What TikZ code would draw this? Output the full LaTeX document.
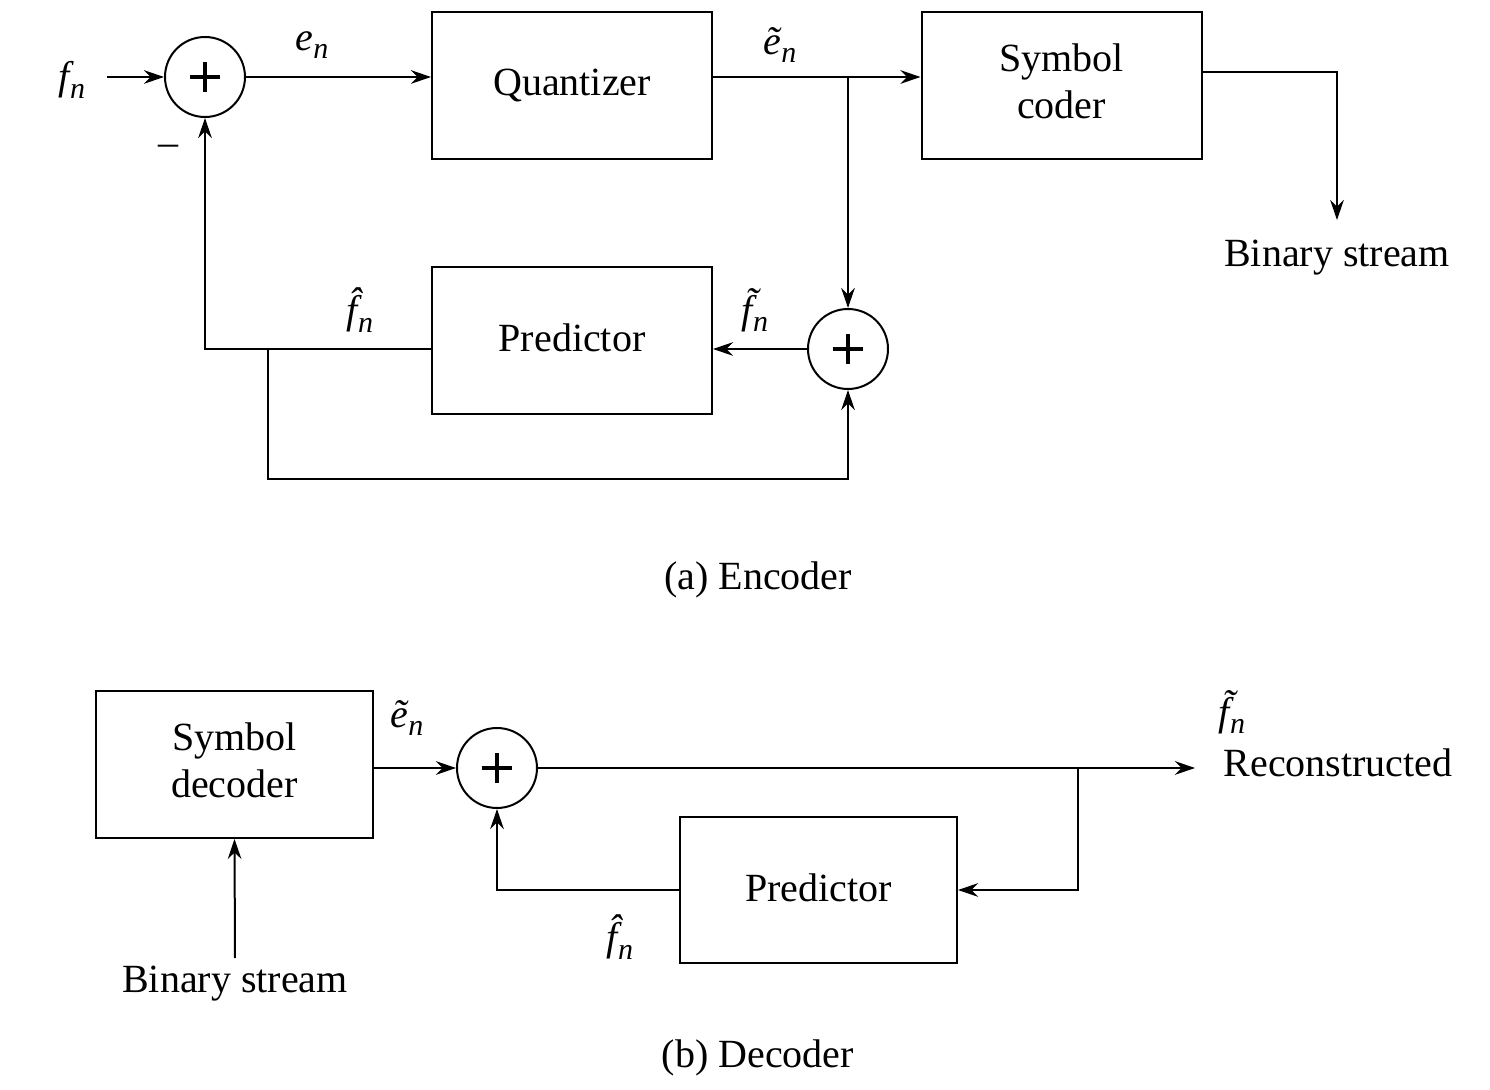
\documentclass[tikz,border=0pt]{standalone}
\usepackage{fontspec}
\setmainfont{Liberation Serif}
\usetikzlibrary{arrows.meta}
\newcommand\vn[1]{{\itshape #1}\raisebox{-0.45ex}{\fontsize{7.5}{8}\selectfont\itshape n}}
\begin{document}
\begin{tikzpicture}[x=0.25pt,y=-0.25pt,
  line width=0.5pt,
  >={Stealth[length=5pt,width=3.4pt]},
  every node/.style={font=\fontsize{10}{12}\selectfont},
  blk/.style={draw,line width=0.5pt,inner sep=0pt,align=center,minimum width=70pt,minimum height=36.75pt},
  sumnode/.style={draw,circle,line width=0.5pt,minimum size=20pt,inner sep=0pt,
    path picture={
      \draw[line width=0.85pt] ([xshift=-3.8pt]path picture bounding box.center) -- ([xshift=3.8pt]path picture bounding box.center);
      \draw[line width=0.85pt] ([yshift=-3.8pt]path picture bounding box.center) -- ([yshift=3.8pt]path picture bounding box.center);}},
  lbl/.style={inner sep=0pt}]
\useasboundingbox (0,0) rectangle (1490,1090);

% ---------- Encoder ----------
\node[sumnode] (s1) at (205,77) {};
\node[blk] (q) at (572,85.5) {\raisebox{1.2pt}{Quantizer}};
\node[blk] (sc) at (1061.5,85.5) {\raisebox{2pt}{\shortstack{Symbol\\[-0.3pt]coder}}};
\node[blk] (p1) at (572,340.5) {\raisebox{1.2pt}{Predictor}};
\node[sumnode] (s2) at (848,349) {};

\node[lbl] (fn) at (72,80) {\vn{f}};
\node[lbl] (en) at (312,45) {\vn{e}};
\node[lbl] (ten) at (780,45) {\vn{\~{e}}};
\node[lbl] (hfn) at (360,310) {\vn{\^{f}}};
\node[lbl] (tfn) at (755,310) {\vn{\~{f}}};
\node[lbl] (minus) at (168,150) {\textendash};
\node[lbl] (bs1) at (1337,258) {Binary stream};
\node[lbl] (capa) at (758,580) {(a) Encoder};

\coordinate (fnend) at (107,77);
\draw[->] (fnend) -- (s1.west);
\draw[->] (s1.east) -- (s1.east -| q.west);
\coordinate (j1) at (s2 |- s1);
\draw[->] (q.east |- s1) -- (sc.west |- s1);
\draw[->] (j1) -- (s2.north);
\coordinate (c1) at (1337,72);
\coordinate (bsarr) at (1337,220);
\draw[->] (sc.east |- c1) -- (c1) -- (bsarr);
\draw[->] (s2.west) -- (p1.east |- s2);
\draw[->] (p1.west |- s2) -- (s1 |- s2) -- (s1.south);
\coordinate (br) at (268,349);
\coordinate (bot) at (268,479);
\draw[->] (br) -- (bot) -- (bot -| s2) -- (s2.south);

% ---------- Decoder ----------
\node[blk,minimum width=69.25pt] (sd) at (234.5,764.5) {\raisebox{2pt}{\shortstack{Symbol\\[-0.3pt]decoder}}};
\node[sumnode] (s3) at (497,768) {};
\node[blk,minimum width=69.25pt,minimum height=36.5pt] (p2) at (818.5,890) {\raisebox{1.2pt}{Predictor}};

\node[lbl] (bs2) at (235,984) {Binary stream};
\node[lbl] (ten2) at (407,718) {\vn{\~{e}}};
\node[lbl] (hfn2) at (620,937) {\vn{\^{f}}};
\node[lbl] (tfn2) at (1232,712) {\vn{\~{f}}};
\node[lbl] (rec) at (1338,763) {Reconstructed};
\node[lbl] (capb) at (758,1058) {(b) Decoder};

\coordinate (bsin) at (235,958);
\draw[->] (bsin) -- (sd.south);
\draw[->] (sd.east |- s3) -- (s3.west);
\coordinate (out) at (1195,768);
\coordinate (j2) at (1078,768);
\draw[->] (s3.east) -- (out);
\draw[->] (j2) |- (p2.east);
\draw[->] (p2.west) -| (s3.south);
\end{tikzpicture}
\end{document}
